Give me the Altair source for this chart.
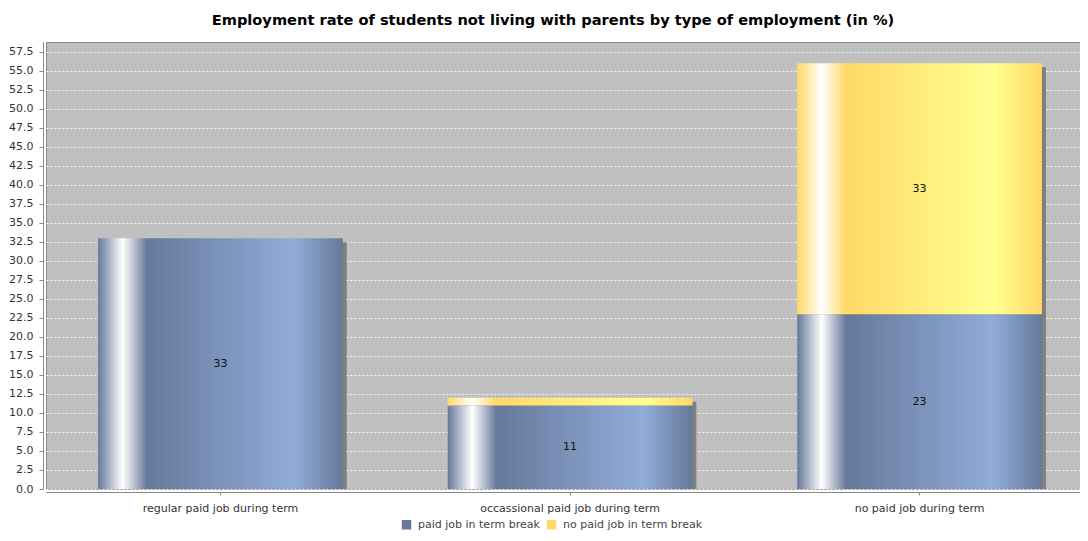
import altair as alt
import pandas as pd

categories = ["regular paid job during term", "occassional paid job during term", "no paid job during term"]
series_names = ["paid job in term break", "no paid job in term break"]
paid_break = [33, 11, 23]
no_paid_break = [0, 1, 33]
y_ticks = [0.0, 2.5, 5.0, 7.5, 10.0, 12.5, 15.0, 17.5, 20.0, 22.5, 25.0, 27.5,
           30.0, 32.5, 35.0, 37.5, 40.0, 42.5, 45.0, 47.5, 50.0, 52.5, 55.0, 57.5]

blue_base, blue_light = "#66799a", "#91acda"
yel_base, yel_light = "#ffd966", "#ffff90"

df = pd.DataFrame({
    "cat": categories,
    "paid": paid_break,
    "nopaid": no_paid_break,
})
df["total"] = df["paid"] + df["nopaid"]

rows = []
for c, a, b in zip(categories, paid_break, no_paid_break):
    rows.append({"cat": c, "series": series_names[0], "value": a, "mid": a / 2})
    rows.append({"cat": c, "series": series_names[1], "value": b, "mid": a + b / 2})
long_df = pd.DataFrame(rows)


def grad(base, light):
    return alt.Gradient(
        gradient="linear", x1=0, x2=1, y1=0, y2=0,
        stops=[
            alt.GradientStop(color=base, offset=0.0),
            alt.GradientStop(color="#ffffff", offset=0.10),
            alt.GradientStop(color=base, offset=0.20),
            alt.GradientStop(color=light, offset=0.80),
            alt.GradientStop(color=base, offset=1.0),
        ],
    )


FONT = "DejaVu Sans"
xscale = alt.Scale(domain=categories, paddingInner=0.3, paddingOuter=0.129, align=0.578)
yscale = alt.Scale(domain=[0, 58.8], nice=False, zero=True)

x_axis = alt.Axis(labelAngle=0, labelFontSize=11, labelFont=FONT, labelColor="#333333",
                  domainColor="#888888", tickColor="#888888", tickSize=3, offset=3,
                  labelPadding=7, grid=False, title=None)
y_axis = alt.Axis(values=y_ticks, format=".1f", labelFontSize=11, labelFont=FONT,
                  labelColor="#333333", domainColor="#888888", tickColor="#888888",
                  tickSize=4, offset=3, labelPadding=6, grid=True, gridColor="#ffffff",
                  gridDash=[2, 2], gridWidth=1, gridOpacity=0.9, title=None,
                  labelOverlap=False, tickCount=24)


def X():
    return alt.X("cat:N", scale=xscale, sort=categories, axis=x_axis, title=None)


def Y(field):
    return alt.Y(field, scale=yscale, axis=y_axis, title=None)


base = alt.Chart(df)

shadow = base.mark_bar(color="#808080", xOffset=4, yOffset=4, clip=True).encode(
    x=X(), y=Y("total:Q"),
)

blue = base.mark_bar(fill=grad(blue_base, blue_light)).encode(
    x=X(), y=Y("paid:Q"),
)

yellow = base.mark_bar(fill=grad(yel_base, yel_light)).encode(
    x=X(), y=Y("paid:Q"), y2="total:Q",
)

labels = alt.Chart(long_df).transform_filter("datum.value >= 2").mark_text(
    font=FONT, fontSize=11, color="#111111", baseline="middle"
).encode(
    x=X(), y=Y("mid:Q"), text=alt.Text("value:Q"),
)

legend_layer = alt.Chart(long_df).mark_square(opacity=0, size=1).encode(
    x=X(), y=Y("mid:Q"),
    color=alt.Color("series:N", sort=series_names,
                    scale=alt.Scale(domain=series_names, range=[blue_base, "#ffd966"]),
                    legend=alt.Legend(orient="none", legendX=355, legendY=477,
                                      direction="horizontal", title=None, padding=0,
                                      symbolType="square", symbolSize=90, symbolOpacity=1,
                                      symbolStrokeWidth=0, labelFont=FONT, labelFontSize=11,
                                      labelColor="#444444", columnPadding=6,
                                      labelOffset=6)),
)

chart = alt.layer(shadow, blue, yellow, labels, legend_layer).properties(
    width=1034,
    height=447,
    background="#ffffff",
    title=alt.TitleParams(
        "Employment rate of students not living with parents by type of employment (in %)",
        font=FONT, fontSize=14.6, fontWeight="bold", color="#000000", anchor="middle",
        dx=-10, offset=14,
    ),
    autosize=alt.AutoSizeParams(type="none"),
    padding={"left": 38, "top": 34, "right": 0, "bottom": 44},
).configure_view(
    fill="#c0c0c0", stroke="#888888", strokeWidth=1,
)

chart.save("out.html", embed_options={"renderer": "svg", "actions": False})
